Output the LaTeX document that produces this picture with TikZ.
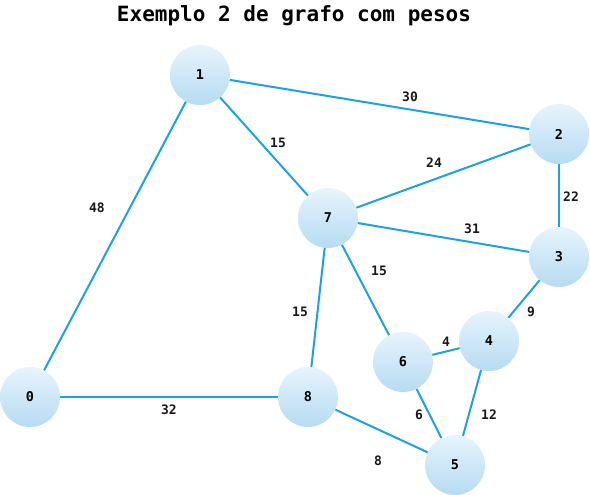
\documentclass[tikz,border=0pt]{standalone}
\usepackage{fontspec}
\setmonofont{DejaVu Sans Mono}
\usepackage{tikz}
\definecolor{edgeblue}{RGB}{28,162,228}
\definecolor{vtop}{RGB}{230,244,253}
\definecolor{vbot}{RGB}{182,219,242}
\tikzset{
  vertex/.style={circle, minimum size=60pt, inner sep=0pt, top color=vtop, bottom color=vbot,
    font=\ttfamily\bfseries\fontsize{13.5}{15}\selectfont},
  weight/.style={font=\ttfamily\bfseries\fontsize{13}{15}\selectfont, text=black!90},
  link/.style={draw=edgeblue, line width=2pt}
}

\begin{document}
\begin{tikzpicture}[x=1pt, y=-1pt]
\useasboundingbox (0,0) rectangle (590,495);
%%% title
\node[font=\ttfamily\bfseries\fontsize{21}{25}\selectfont] (title) at (294,16) {Exemplo 2 de grafo com pesos};
%%% draws graph
% draws vertices
\node[vertex] (v0) at (30,397) {0};
\node[vertex] (v1) at (200,75) {1};
\node[vertex] (v2) at (559,134) {2};
\node[vertex] (v3) at (559,257) {3};
\node[vertex] (v4) at (489,341) {4};
\node[vertex] (v5) at (455,465) {5};
\node[vertex] (v6) at (403,362) {6};
\node[vertex] (v7) at (328,218) {7};
\node[vertex] (v8) at (308,397) {8};
% draws edges
\draw[link] (v0) -- (v1);
\draw[link] (v0) -- (v8);
\draw[link] (v1) -- (v2);
\draw[link] (v1) -- (v7);
\draw[link] (v2) -- (v7);
\draw[link] (v2) -- (v3);
\draw[link] (v7) -- (v3);
\draw[link] (v7) -- (v6);
\draw[link] (v7) -- (v8);
\draw[link] (v3) -- (v4);
\draw[link] (v6) -- (v4);
\draw[link] (v6) -- (v5);
\draw[link] (v4) -- (v5);
\draw[link] (v8) -- (v5);
% labels edges
\node[weight] (w12) at (410,97) {30};
\node[weight] (w17) at (278,143) {15};
\node[weight] (w27) at (434,163) {24};
\node[weight] (w23) at (571,197) {22};
\node[weight] (w01) at (97,208) {48};
\node[weight] (w73) at (472,229) {31};
\node[weight] (w76) at (379,271) {15};
\node[weight] (w34) at (531,312) {9};
\node[weight] (w78) at (300,312) {15};
\node[weight] (w64) at (446,342) {4};
\node[weight] (w08) at (169,410) {32};
\node[weight] (w65) at (419,415) {6};
\node[weight] (w45) at (489,415) {12};
\node[weight] (w85) at (378,461) {8};
\end{tikzpicture}
\end{document}
